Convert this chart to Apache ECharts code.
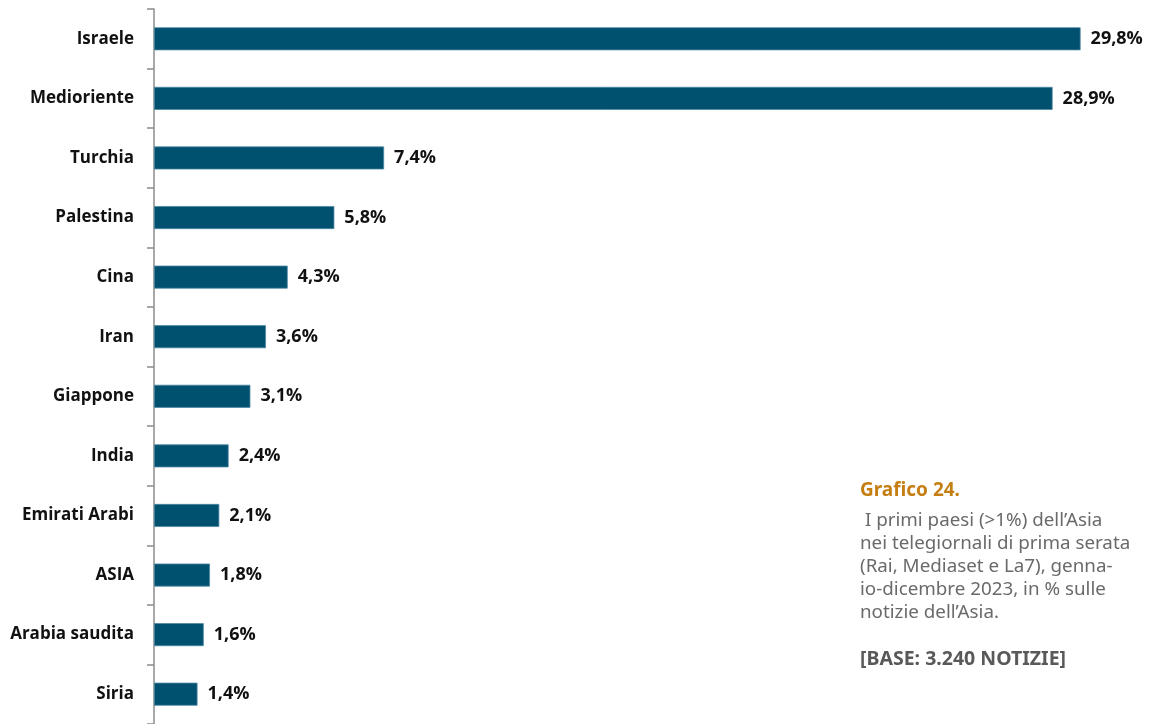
<!DOCTYPE html>
<html>
<head>
<meta charset="utf-8">
<script src="https://cdn.jsdelivr.net/npm/echarts@6/dist/echarts.min.js"></script>
<style>
  html, body { margin: 0; padding: 0; background: #fff; }
  #chart { width: 1156px; height: 724px; }
</style>
</head>
<body>
<div id="chart"></div>
<script>
// Countries of Asia in prime-time news, share of Asia news (%)
const categories = ['Israele', 'Medioriente', 'Turchia', 'Palestina', 'Cina', 'Iran',
  'Giappone', 'India', 'Emirati Arabi', 'ASIA', 'Arabia saudita', 'Siria'];
const values = [29.8, 28.9, 7.4, 5.8, 4.3, 3.6, 3.1, 2.4, 2.1, 1.8, 1.6, 1.4];

const noteTitle = 'Grafico 24.';
const noteLines = [
  ' I primi paesi (>1%) dell\u2019Asia',
  'nei telegiornali di prima serata',
  '(Rai, Mediaset e La7), genna-',
  'io-dicembre 2023, in % sulle',
  'notizie dell\u2019Asia.'
];
const noteBase = '[BASE: 3.240 NOTIZIE]';

const chart = echarts.init(document.getElementById('chart'));
const fmt = v => v.toFixed(1).replace('.', ',') + '%';

chart.setOption({
  animation: false,
  grid: { left: 154, top: 9, width: 995, height: 719, containLabel: false },
  xAxis: {
    type: 'value', min: 0, max: 32,
    show: false
  },
  yAxis: {
    type: 'category',
    inverse: true,
    data: categories,
    axisLine: { show: true, lineStyle: { color: '#8c8c8c', width: 1.5 } },
    axisTick: { show: true, length: 7, lineStyle: { color: '#8c8c8c', width: 1.5 } },
    axisLabel: {
      margin: 20,
      color: '#111',
      fontFamily: 'Open Sans',
      fontWeight: 'bold',
      fontSize: 17
    },
    splitLine: { show: false }
  },
  series: [{
    type: 'bar',
    data: values,
    barWidth: 23,
    itemStyle: { color: '#00506f', borderColor: '#4d88a3', borderWidth: 0.8 },
    label: {
      show: true,
      position: 'right',
      distance: 10,
      formatter: p => fmt(p.value),
      color: '#111',
      fontFamily: 'Open Sans',
      fontWeight: 'bold',
      fontSize: 18
    }
  }],
  graphic: [
    {
      type: 'text', left: 860, top: 481,
      style: { text: noteTitle, fill: '#c57e12', font: 'bold 19px "Noto Sans"' }
    },
    {
      type: 'text', left: 860, top: 509,
      style: {
        text: noteLines.join('\n'), fill: '#6a6a6a',
        font: '18.8px "Noto Sans"', lineHeight: 23
      }
    },
    {
      type: 'text', left: 860, top: 649,
      style: { text: noteBase, fill: '#595959', font: 'bold 19.5px "Noto Sans"' }
    }
  ]
});
</script>
</body>
</html>
